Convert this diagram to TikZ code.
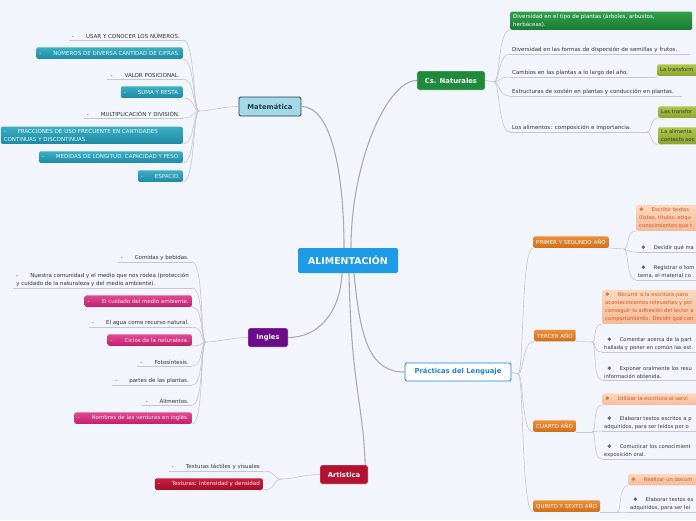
\documentclass[tikz,border=0pt]{standalone}
\usepackage{fontspec}
\setmainfont{DejaVu Sans}
\usepackage{tikz}
\usetikzlibrary{positioning}

\definecolor{bg}{HTML}{F3F5FC}
\definecolor{txt}{HTML}{333333}
\definecolor{trunkc}{HTML}{ABABAF}
\definecolor{twigc}{HTML}{C6C6CC}
\definecolor{cAlim}{HTML}{1D9BE6}
\definecolor{cMatF}{HTML}{A3D8E8}
\definecolor{cMatD}{HTML}{22404E}
\definecolor{cNat}{HTML}{1F8A3B}
\definecolor{cIng}{HTML}{6B0A8A}
\definecolor{cArt}{HTML}{B31230}
\definecolor{cPrac}{HTML}{1B7FE3}

\tikzset{
  trunk/.style={draw=trunkc,line width=1.1pt},
  twig/.style={draw=twigc,line width=0.6pt},
  main/.style={rounded corners=2pt,fill=cAlim,text=white,font=\fontsize{9.4}{10}\selectfont\bfseries,minimum width=100pt,minimum height=25pt},
  br/.style={rounded corners=1.5pt,font=\fontsize{6.8}{8}\selectfont\bfseries,minimum height=19pt,inner xsep=4pt},
  % children to the left of their branch
  lplain/.style={anchor=south east,align=left,inner xsep=3pt,inner ysep=1.5pt,text=txt},
  lbox/.style={anchor=south east,align=left,rounded corners=1.5pt,inner xsep=3pt,inner ysep=2.5pt,minimum height=11.5pt},
  % children to the right of their branch
  rplain/.style={anchor=south west,align=left,inner xsep=2pt,inner ysep=1.5pt,text=txt},
  rbox/.style={anchor=south west,align=left,rounded corners=1.5pt,inner xsep=3pt,inner ysep=2.5pt,minimum height=11.5pt},
  edge/.style={font=\fontsize{5.2}{8}\selectfont},
  teal/.style={top color=HTML-3DAEC4,bottom color=HTML-1C8AA3,text=white!92!cyan},
  mag/.style={top color=HTML-E04A92,bottom color=HTML-C21F6C,text=white!92!magenta},
  crim/.style={top color=HTML-C8203E,bottom color=HTML-A50C28,text=white!92!red},
  org/.style={top color=HTML-EE8E36,bottom color=HTML-D26E1A,text=white},
  lorg/.style={top color=HTML-FBD9C0,bottom color=HTML-F3BC98,text=HTML-E4501C},
  grn/.style={top color=HTML-33A04C,bottom color=HTML-1A7A33,text=white},
  oliv/.style={top color=HTML-B0C64A,bottom color=HTML-8CA52E,text=txt},
}
% colours written as HTML-xxxxxx
\def\defhtml#1{\definecolor{HTML-#1}{HTML}{#1}}
\defhtml{3DAEC4}\defhtml{1C8AA3}\defhtml{E04A92}\defhtml{C21F6C}
\defhtml{C8203E}\defhtml{A50C28}\defhtml{EE8E36}\defhtml{D26E1A}
\defhtml{FBD9C0}\defhtml{F3BC98}\defhtml{E4501C}\defhtml{33A04C}
\defhtml{1A7A33}\defhtml{B0C64A}\defhtml{8CA52E}

\newcommand{\dsh}{-\hspace{12pt}}
\newcommand{\blt}{\ding\hspace{8pt}}
\newcommand{\ding}{❖}

\begin{document}
\begin{tikzpicture}[x=1pt,y=-1pt,font=\fontsize{5.5}{8}\selectfont]
\useasboundingbox (0,0) rectangle (696,520);
\fill[bg] (0,0) rectangle (696,520);
\clip (0,0) rectangle (696,520);

% branches
\node[main] (Alim) at (348,260.5) {ALIMENTACIÓN};
\node[br,fill=cMatF,draw=cMatD,line width=0.8pt,text=cMatD,minimum width=62pt] (Mat) at (270,106.5) {Matemática};
\node[br,fill=cNat,draw=white,text=white,minimum width=68pt] (Nat) at (451,80.5) {Cs. Naturales};
\node[br,fill=cIng,draw=white,text=white,minimum width=40pt] (Ing) at (268,337.5) {Ingles};
\node[br,fill=cArt,draw=white,text=white,minimum width=48pt] (Art) at (344,474.5) {Artistica};
\node[br,fill=white,draw=cPrac,line width=0.9pt,text=cPrac,minimum width=106pt,minimum height=18pt] (Prac) at (458,372) {Prácticas del Lenguaje};

% Matemática
\node[lplain] (M1) at (183,40) {\dsh USAR Y CONOCER LOS NÚMEROS.};
\node[lbox,teal] (M2) at (183,59) {\dsh NÚMEROS DE DIVERSA CANTIDAD DE CIFRAS.};
\node[lplain] (M3) at (183,79) {\dsh VALOR POSICIONAL.};
\node[lbox,teal] (M4) at (183,98) {\dsh SUMA Y RESTA.};
\node[lplain] (M5) at (183,118) {\dsh MULTIPLICACIÓN Y DIVISIÓN.};
\node[lbox,teal,text width=176pt] (M6) at (183,144) {\dsh FRACCIONES DE USO FRECUENTE EN CANTIDADES\\CONTINUAS Y DISCONTINUAS.};
\node[lbox,teal] (M7) at (183,163) {\dsh MEDIDAS DE LONGITUD, CAPACIDAD Y PESO.};
\node[lbox,teal] (M8) at (183,182) {\dsh ESPACIO.};

% Ingles
\node[lplain] (I1) at (192,262) {\dsh Comidas y bebidas.};
\node[lplain] (I2) at (192,288) {\dsh Nuestra comunidad y el medio que nos rodea (protección\\y cuidado de la naturaleza y del medio ambiente).};
\node[lbox,mag] (I3) at (192,307) {\dsh El cuidado del medio ambiente.};
\node[lplain] (I4) at (192,327) {\dsh El agua como recurso natural.};
\node[lbox,mag] (I5) at (192,346) {\dsh Ciclos de la naturaleza.};
\node[lplain] (I6) at (192,366) {\dsh Fotosíntesis.};
\node[lplain] (I7) at (192,385) {\dsh partes de las plantas.};
\node[lplain] (I8) at (192,405) {\dsh Alimentos.};
\node[lbox,mag] (I9) at (192,424) {\dsh Nombres de las verduras en inglés.};

% Artistica
\node[lplain] (T1) at (263,471) {\dsh Texturas táctiles y visuales};
\node[lbox,crim] (T2) at (263,490) {\dsh Texturas: intensidad y densidad};

% Cs. Naturales
\node[rbox,grn,text width=176pt] (N1) at (510,30) {Diversidad en el tipo de plantas (árboles, arbustos,\\herbáceas).};
\node[rplain,text width=176pt] (N2) at (510,54) {Diversidad en las formas de dispersión de semillas y frutos.};
\node[rplain,text width=141pt] (N3) at (510,77) {Cambios en las plantas a lo largo del año.};
\node[rplain,text width=168pt] (N4) at (510,96) {Estructuras de sostén en plantas y conducción en plantas.};
\node[rplain,text width=126pt] (N5) at (510,132) {Los alimentos: composición e importancia.};
\node[rbox,oliv,edge,text width=60pt] (O1) at (657,76) {La transform};
\node[rbox,oliv,edge,text width=60pt] (O2) at (658,118) {Las transfor};
\node[rbox,oliv,edge,text width=60pt] (O3) at (658,144.5) {La alimenta\\contexto soc};

% Prácticas del Lenguaje
\node[rbox,org] (P1) at (533,248) {PRIMER Y SEGUNDO AÑO};
\node[rbox,org] (P2) at (534,341.5) {TERCER AÑO};
\node[rbox,org] (P3) at (533,432) {CUARTO AÑO};
\node[rbox,org] (P4) at (533,512) {QUINTO Y SEXTO AÑO};

\node[rbox,lorg,edge,text width=70pt] (A1) at (636,231) {\blt Escribir textos\\(listas, títulos, etiqu\\conocimientos que t};
\node[rplain,edge,text width=70pt] (A2) at (636,252) {\hspace{3pt}\blt Decidir qué ma};
\node[rplain,edge,text width=70pt] (A3) at (636,280) {\hspace{3pt}\blt Registrar o tom\\tema, el material co};

\node[rbox,lorg,edge,text width=100pt] (B1) at (602,324) {\blt Recurrir a la escritura para\\acontecimientos relevantes y por\\conseguir la adhesión del lector a\\comportamiento. Decidir qué con};
\node[rplain,edge,text width=100pt] (B2) at (602,352) {\hspace{3pt}\blt Comentar acerca de la part\\hallada y poner en común las est};
\node[rplain,edge,text width=100pt] (B3) at (602,380) {\hspace{3pt}\blt Exponer oralmente los resu\\información obtenida.};

\node[rbox,lorg,edge,text width=100pt] (C1) at (602,405) {\blt Utilizar la escritura al servi};
\node[rplain,edge,text width=100pt] (C2) at (602,431) {\hspace{3pt}\blt Elaborar textos escritos a p\\adquiridos, para ser leídos por o};
\node[rplain,edge,text width=100pt] (C3) at (602,459) {\hspace{3pt}\blt Comunicar los conocimient\\exposición oral.};

\node[rbox,lorg,edge,text width=70pt] (D1) at (628,485.5) {\blt Realizar un docum};
\node[rplain,edge,text width=70pt] (D2) at (628,512) {\hspace{3pt}\blt Elaborar textos es\\adquiridos, para ser leí};

% trunk lines
\draw[trunk] ([xshift=-4pt]Alim.north) .. controls +(0,-75) and +(30,0) .. (Mat.east);
\draw[trunk] ([xshift=3pt]Alim.north) .. controls +(0,-85) and +(-30,0) .. (Nat.west);
\draw[trunk] ([xshift=-6pt]Alim.south) .. controls +(-2,40) and +(30,0) .. (Ing.east);
\draw[trunk] ([xshift=1pt]Alim.south) .. controls +(2,110) and +(-2,-60) .. ([xshift=-3pt]Art.north east);
\draw[trunk] ([xshift=6pt]Alim.south) .. controls +(6,65) and +(-35,0) .. (Prac.west);

% twigs
\coordinate (jm) at (199,111);
\draw[twig] (Mat.west) .. controls +(-16,0) and +(12,0) .. (jm);
\foreach \i in {1,...,8} \draw[twig] (jm) .. controls +(-6,0) and +(12,0) .. (M\i.south east);
\foreach \c in {M1,M3,M5} \draw[twig] (\c.south west) -- (\c.south east);

\coordinate (ji) at (206,342);
\draw[twig] (Ing.west) .. controls +(-16,0) and +(12,0) .. (ji);
\foreach \i in {1,...,9} \draw[twig] (ji) .. controls +(-6,0) and +(12,0) .. (I\i.south east);
\foreach \c in {I1,I2,I4,I6,I7,I8} \draw[twig] (\c.south west) -- (\c.south east);

\coordinate (jt) at (282,479);
\draw[twig] (Art.west) .. controls +(-16,0) and +(12,0) .. (jt);
\foreach \c in {T1,T2} \draw[twig] (jt) .. controls +(-10,0) and +(14,0) .. (\c.south east);
\draw[twig] (T1.south west) -- (T1.south east);

\coordinate (jn) at (494,82);
\draw[twig] (Nat.east) -- (jn);
\foreach \i in {1,...,5} \draw[twig] (jn) .. controls +(6,0) and +(-12,0) .. (N\i.south west);
\foreach \c in {N2,N3,N4,N5} \draw[twig] (\c.south west) -- (\c.south east);
\draw[twig] (N3.south east) -- (O1.south west);
\coordinate (j5) at (647,132);
\draw[twig] (N5.south east) -- (j5);
\foreach \c in {O2,O3} \draw[twig] (j5) .. controls +(5,0) and +(-8,0) .. (\c.south west);

\coordinate (jp) at (518,374);
\draw[twig] (Prac.east) -- (jp);
\foreach \i in {1,...,4} \draw[twig] (jp) .. controls +(6,0) and +(-12,0) .. (P\i.south west);

\coordinate (j1) at (624,249);
\draw[twig] (P1.south east) -- (j1);
\foreach \c in {A1,A2,A3} \draw[twig] (j1) .. controls +(5,0) and +(-10,0) .. (\c.south west);
\coordinate (j2) at (592,342);
\draw[twig] (P2.south east) -- (j2);
\foreach \c in {B1,B2,B3} \draw[twig] (j2) .. controls +(5,0) and +(-10,0) .. (\c.south west);
\coordinate (j3) at (592,432);
\draw[twig] (P3.south east) -- (j3);
\foreach \c in {C1,C2,C3} \draw[twig] (j3) .. controls +(5,0) and +(-10,0) .. (\c.south west);
\coordinate (j4) at (617,512);
\draw[twig] (P4.south east) -- (j4);
\foreach \c in {D1,D2} \draw[twig] (j4) .. controls +(5,0) and +(-10,0) .. (\c.south west);
\foreach \c in {A2,A3,B2,B3,C2,C3,D2} \draw[twig] (\c.south west) -- (\c.south east);
\end{tikzpicture}
\end{document}
